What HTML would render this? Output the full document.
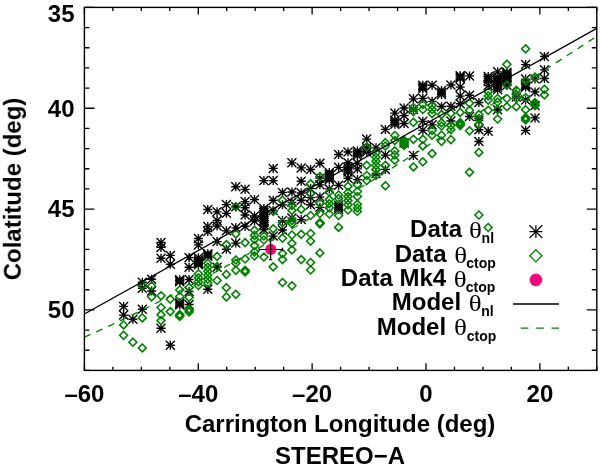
<!DOCTYPE html><html><head><meta charset="utf-8"><style>html,body{margin:0;padding:0;background:#fff;}svg{display:block;}text{font-family:"Liberation Sans",sans-serif;font-weight:bold;} .th{font-family:"Liberation Serif",serif;font-weight:normal;}</style></head><body>
<svg width="600" height="470" viewBox="0 0 600 470">
<rect x="0" y="0" width="600" height="470" fill="#fff"/>
<defs>
<g id="a"><path d="M-4.5,0H4.5M0,-4.5V4.5M-4.5,-4.5L4.5,4.5M-4.5,4.5L4.5,-4.5" stroke="#000" stroke-width="1.35" fill="none"/></g>
<g id="d"><path d="M0,-3.9499999999999997L3.9499999999999997,0L0,3.9499999999999997L-3.9499999999999997,0Z" stroke="#008000" stroke-width="1.6" fill="none"/></g>
</defs>
<use href="#a" x="123.6" y="306.4"/>
<use href="#a" x="123.6" y="315.1"/>
<use href="#a" x="132.9" y="319.2"/>
<use href="#a" x="142.3" y="282.2"/>
<use href="#a" x="142.3" y="288.2"/>
<use href="#a" x="142.3" y="309.3"/>
<use href="#a" x="151.6" y="279.2"/>
<use href="#a" x="151.6" y="291.0"/>
<use href="#a" x="161.0" y="242.4"/>
<use href="#a" x="161.0" y="247.4"/>
<use href="#a" x="161.0" y="258.3"/>
<use href="#a" x="161.0" y="328.3"/>
<use href="#a" x="170.3" y="255.4"/>
<use href="#a" x="170.3" y="264.2"/>
<use href="#a" x="170.3" y="345.3"/>
<use href="#a" x="179.7" y="279.8"/>
<use href="#a" x="179.7" y="281.8"/>
<use href="#a" x="179.7" y="302.8"/>
<use href="#a" x="179.7" y="305.0"/>
<use href="#a" x="179.7" y="280.8"/>
<use href="#a" x="179.7" y="303.9"/>
<use href="#a" x="189.1" y="257.6"/>
<use href="#a" x="189.1" y="267.2"/>
<use href="#a" x="189.1" y="279.5"/>
<use href="#a" x="189.1" y="291.5"/>
<use href="#a" x="189.1" y="304.5"/>
<use href="#a" x="198.4" y="238.5"/>
<use href="#a" x="198.4" y="244.9"/>
<use href="#a" x="198.4" y="257.7"/>
<use href="#a" x="198.4" y="262.0"/>
<use href="#a" x="198.4" y="264.7"/>
<use href="#a" x="198.4" y="259.9"/>
<use href="#a" x="198.4" y="263.4"/>
<use href="#a" x="207.8" y="209.5"/>
<use href="#a" x="207.8" y="226.4"/>
<use href="#a" x="207.8" y="231.5"/>
<use href="#a" x="207.8" y="253.8"/>
<use href="#a" x="207.8" y="256.2"/>
<use href="#a" x="207.8" y="289.3"/>
<use href="#a" x="207.8" y="255.0"/>
<use href="#a" x="217.1" y="211.8"/>
<use href="#a" x="217.1" y="220.4"/>
<use href="#a" x="217.1" y="226.0"/>
<use href="#a" x="217.1" y="241.6"/>
<use href="#a" x="217.1" y="267.3"/>
<use href="#a" x="226.4" y="204.6"/>
<use href="#a" x="226.4" y="213.3"/>
<use href="#a" x="226.4" y="230.8"/>
<use href="#a" x="226.4" y="249.2"/>
<use href="#a" x="235.8" y="186.7"/>
<use href="#a" x="235.8" y="206.7"/>
<use href="#a" x="235.8" y="227.8"/>
<use href="#a" x="235.8" y="243.1"/>
<use href="#a" x="245.1" y="189.3"/>
<use href="#a" x="245.1" y="201.6"/>
<use href="#a" x="245.1" y="207.7"/>
<use href="#a" x="245.1" y="215.0"/>
<use href="#a" x="245.1" y="226.2"/>
<use href="#a" x="254.5" y="199.5"/>
<use href="#a" x="254.5" y="216.0"/>
<use href="#a" x="254.5" y="221.0"/>
<use href="#a" x="263.9" y="180.6"/>
<use href="#a" x="263.9" y="208.5"/>
<use href="#a" x="263.9" y="212.5"/>
<use href="#a" x="263.9" y="216.6"/>
<use href="#a" x="263.9" y="220.6"/>
<use href="#a" x="263.9" y="224.7"/>
<use href="#a" x="263.9" y="229.5"/>
<use href="#a" x="263.9" y="210.5"/>
<use href="#a" x="263.9" y="214.6"/>
<use href="#a" x="263.9" y="218.6"/>
<use href="#a" x="263.9" y="222.6"/>
<use href="#a" x="273.2" y="168.4"/>
<use href="#a" x="273.2" y="180.6"/>
<use href="#a" x="273.2" y="200.2"/>
<use href="#a" x="273.2" y="210.4"/>
<use href="#a" x="273.2" y="236.1"/>
<use href="#a" x="282.5" y="192.4"/>
<use href="#a" x="282.5" y="204.8"/>
<use href="#a" x="282.5" y="220.6"/>
<use href="#a" x="282.5" y="230.0"/>
<use href="#a" x="291.9" y="162.8"/>
<use href="#a" x="291.9" y="192.0"/>
<use href="#a" x="291.9" y="202.3"/>
<use href="#a" x="291.9" y="218.1"/>
<use href="#a" x="301.2" y="167.9"/>
<use href="#a" x="301.2" y="181.2"/>
<use href="#a" x="301.2" y="193.0"/>
<use href="#a" x="301.2" y="200.2"/>
<use href="#a" x="301.2" y="219.6"/>
<use href="#a" x="310.6" y="169.5"/>
<use href="#a" x="310.6" y="188.4"/>
<use href="#a" x="310.6" y="197.6"/>
<use href="#a" x="310.6" y="204.7"/>
<use href="#a" x="319.9" y="163.2"/>
<use href="#a" x="319.9" y="178.2"/>
<use href="#a" x="319.9" y="184.8"/>
<use href="#a" x="319.9" y="197.1"/>
<use href="#a" x="319.9" y="207.3"/>
<use href="#a" x="329.3" y="172.5"/>
<use href="#a" x="329.3" y="176.1"/>
<use href="#a" x="329.3" y="179.7"/>
<use href="#a" x="329.3" y="188.9"/>
<use href="#a" x="329.3" y="174.3"/>
<use href="#a" x="329.3" y="177.9"/>
<use href="#a" x="338.6" y="154.5"/>
<use href="#a" x="338.6" y="167.3"/>
<use href="#a" x="338.6" y="185.3"/>
<use href="#a" x="338.6" y="205.2"/>
<use href="#a" x="338.6" y="209.3"/>
<use href="#a" x="338.6" y="207.2"/>
<use href="#a" x="348.0" y="152.0"/>
<use href="#a" x="348.0" y="162.7"/>
<use href="#a" x="348.0" y="167.8"/>
<use href="#a" x="348.0" y="172.0"/>
<use href="#a" x="348.0" y="178.2"/>
<use href="#a" x="348.0" y="169.9"/>
<use href="#a" x="357.4" y="151.0"/>
<use href="#a" x="357.4" y="155.5"/>
<use href="#a" x="357.4" y="163.3"/>
<use href="#a" x="357.4" y="168.9"/>
<use href="#a" x="357.4" y="179.6"/>
<use href="#a" x="357.4" y="153.2"/>
<use href="#a" x="366.7" y="139.1"/>
<use href="#a" x="366.7" y="147.8"/>
<use href="#a" x="366.7" y="152.0"/>
<use href="#a" x="366.7" y="149.9"/>
<use href="#a" x="376.0" y="147.8"/>
<use href="#a" x="376.0" y="173.5"/>
<use href="#a" x="385.4" y="129.4"/>
<use href="#a" x="385.4" y="155.1"/>
<use href="#a" x="385.4" y="169.4"/>
<use href="#a" x="394.8" y="113.1"/>
<use href="#a" x="394.8" y="120.2"/>
<use href="#a" x="394.8" y="124.3"/>
<use href="#a" x="394.8" y="122.2"/>
<use href="#a" x="404.1" y="108.0"/>
<use href="#a" x="404.1" y="115.6"/>
<use href="#a" x="404.1" y="123.5"/>
<use href="#a" x="404.1" y="143.0"/>
<use href="#a" x="413.4" y="98.8"/>
<use href="#a" x="413.4" y="109.5"/>
<use href="#a" x="413.4" y="155.6"/>
<use href="#a" x="422.8" y="85.2"/>
<use href="#a" x="422.8" y="88.8"/>
<use href="#a" x="422.8" y="98.3"/>
<use href="#a" x="422.8" y="121.3"/>
<use href="#a" x="422.8" y="130.3"/>
<use href="#a" x="422.8" y="87.0"/>
<use href="#a" x="432.1" y="85.2"/>
<use href="#a" x="432.1" y="101.3"/>
<use href="#a" x="432.1" y="124.8"/>
<use href="#a" x="441.5" y="90.5"/>
<use href="#a" x="441.5" y="94.5"/>
<use href="#a" x="441.5" y="106.5"/>
<use href="#a" x="441.5" y="92.5"/>
<use href="#a" x="450.9" y="85.0"/>
<use href="#a" x="450.9" y="106.2"/>
<use href="#a" x="450.9" y="121.0"/>
<use href="#a" x="460.2" y="75.8"/>
<use href="#a" x="460.2" y="78.2"/>
<use href="#a" x="460.2" y="87.1"/>
<use href="#a" x="460.2" y="96.1"/>
<use href="#a" x="460.2" y="103.7"/>
<use href="#a" x="460.2" y="77.0"/>
<use href="#a" x="469.5" y="75.9"/>
<use href="#a" x="469.5" y="95.2"/>
<use href="#a" x="469.5" y="116.5"/>
<use href="#a" x="478.9" y="102.5"/>
<use href="#a" x="478.9" y="120.5"/>
<use href="#a" x="478.9" y="129.7"/>
<use href="#a" x="478.9" y="141.5"/>
<use href="#a" x="488.2" y="76.5"/>
<use href="#a" x="488.2" y="80.5"/>
<use href="#a" x="488.2" y="85.6"/>
<use href="#a" x="488.2" y="131.3"/>
<use href="#a" x="488.2" y="78.5"/>
<use href="#a" x="497.6" y="71.8"/>
<use href="#a" x="497.6" y="77.0"/>
<use href="#a" x="497.6" y="81.1"/>
<use href="#a" x="497.6" y="85.2"/>
<use href="#a" x="497.6" y="89.8"/>
<use href="#a" x="497.6" y="109.7"/>
<use href="#a" x="497.6" y="79.0"/>
<use href="#a" x="497.6" y="83.2"/>
<use href="#a" x="497.6" y="87.5"/>
<use href="#a" x="506.9" y="72.2"/>
<use href="#a" x="506.9" y="74.5"/>
<use href="#a" x="506.9" y="77.5"/>
<use href="#a" x="506.9" y="80.2"/>
<use href="#a" x="506.9" y="85.2"/>
<use href="#a" x="506.9" y="73.3"/>
<use href="#a" x="506.9" y="76.0"/>
<use href="#a" x="506.9" y="78.8"/>
<use href="#a" x="516.3" y="97.0"/>
<use href="#a" x="525.6" y="64.6"/>
<use href="#a" x="525.6" y="79.1"/>
<use href="#a" x="525.6" y="84.2"/>
<use href="#a" x="525.6" y="87.3"/>
<use href="#a" x="525.6" y="100.0"/>
<use href="#a" x="525.6" y="130.3"/>
<use href="#a" x="525.6" y="85.8"/>
<use href="#a" x="535.0" y="79.1"/>
<use href="#a" x="535.0" y="91.9"/>
<use href="#a" x="535.0" y="105.6"/>
<use href="#a" x="535.0" y="117.9"/>
<use href="#a" x="544.4" y="56.5"/>
<use href="#a" x="544.4" y="69.8"/>
<use href="#a" x="544.4" y="78.5"/>
<use href="#d" x="123.6" y="324.9"/>
<use href="#d" x="123.6" y="335.3"/>
<use href="#d" x="132.9" y="342.2"/>
<use href="#d" x="142.3" y="285.5"/>
<use href="#d" x="142.3" y="317.9"/>
<use href="#d" x="142.3" y="347.9"/>
<use href="#d" x="151.6" y="286.0"/>
<use href="#d" x="151.6" y="296.8"/>
<use href="#d" x="161.0" y="295.8"/>
<use href="#d" x="161.0" y="307.5"/>
<use href="#d" x="161.0" y="314.7"/>
<use href="#d" x="161.0" y="320.6"/>
<use href="#d" x="170.3" y="299.2"/>
<use href="#d" x="170.3" y="311.6"/>
<use href="#d" x="179.7" y="290.0"/>
<use href="#d" x="179.7" y="296.5"/>
<use href="#d" x="179.7" y="314.5"/>
<use href="#d" x="179.7" y="316.5"/>
<use href="#d" x="179.7" y="315.5"/>
<use href="#d" x="189.1" y="287.5"/>
<use href="#d" x="189.1" y="297.3"/>
<use href="#d" x="189.1" y="309.0"/>
<use href="#d" x="189.1" y="312.0"/>
<use href="#d" x="189.1" y="310.5"/>
<use href="#d" x="198.4" y="273.8"/>
<use href="#d" x="198.4" y="277.8"/>
<use href="#d" x="198.4" y="281.8"/>
<use href="#d" x="198.4" y="285.5"/>
<use href="#d" x="207.8" y="263.2"/>
<use href="#d" x="207.8" y="267.2"/>
<use href="#d" x="207.8" y="271.2"/>
<use href="#d" x="207.8" y="275.2"/>
<use href="#d" x="207.8" y="279.2"/>
<use href="#d" x="207.8" y="283.0"/>
<use href="#d" x="217.1" y="256.4"/>
<use href="#d" x="217.1" y="266.5"/>
<use href="#d" x="217.1" y="280.5"/>
<use href="#d" x="226.4" y="244.6"/>
<use href="#d" x="226.4" y="274.4"/>
<use href="#d" x="226.4" y="287.7"/>
<use href="#d" x="226.4" y="296.9"/>
<use href="#d" x="235.8" y="206.7"/>
<use href="#d" x="235.8" y="233.9"/>
<use href="#d" x="235.8" y="260.0"/>
<use href="#d" x="235.8" y="263.2"/>
<use href="#d" x="235.8" y="270.3"/>
<use href="#d" x="235.8" y="294.3"/>
<use href="#d" x="245.1" y="242.6"/>
<use href="#d" x="245.1" y="259.0"/>
<use href="#d" x="245.1" y="270.3"/>
<use href="#d" x="245.1" y="272.0"/>
<use href="#d" x="245.1" y="271.1"/>
<use href="#d" x="254.5" y="230.3"/>
<use href="#d" x="254.5" y="235.4"/>
<use href="#d" x="254.5" y="239.5"/>
<use href="#d" x="254.5" y="245.6"/>
<use href="#d" x="254.5" y="251.8"/>
<use href="#d" x="254.5" y="256.0"/>
<use href="#d" x="263.9" y="236.0"/>
<use href="#d" x="263.9" y="240.0"/>
<use href="#d" x="263.9" y="257.0"/>
<use href="#d" x="273.2" y="211.5"/>
<use href="#d" x="273.2" y="228.8"/>
<use href="#d" x="273.2" y="266.8"/>
<use href="#d" x="282.5" y="200.2"/>
<use href="#d" x="282.5" y="222.7"/>
<use href="#d" x="282.5" y="238.2"/>
<use href="#d" x="282.5" y="253.5"/>
<use href="#d" x="282.5" y="259.6"/>
<use href="#d" x="282.5" y="282.5"/>
<use href="#d" x="291.9" y="205.3"/>
<use href="#d" x="291.9" y="210.4"/>
<use href="#d" x="291.9" y="220.6"/>
<use href="#d" x="291.9" y="223.7"/>
<use href="#d" x="291.9" y="235.0"/>
<use href="#d" x="291.9" y="243.3"/>
<use href="#d" x="291.9" y="249.9"/>
<use href="#d" x="291.9" y="285.8"/>
<use href="#d" x="301.2" y="209.4"/>
<use href="#d" x="301.2" y="234.3"/>
<use href="#d" x="301.2" y="259.6"/>
<use href="#d" x="310.6" y="183.8"/>
<use href="#d" x="310.6" y="193.5"/>
<use href="#d" x="310.6" y="215.5"/>
<use href="#d" x="310.6" y="233.5"/>
<use href="#d" x="310.6" y="241.2"/>
<use href="#d" x="310.6" y="262.5"/>
<use href="#d" x="310.6" y="270.0"/>
<use href="#d" x="319.9" y="176.5"/>
<use href="#d" x="319.9" y="203.2"/>
<use href="#d" x="319.9" y="213.5"/>
<use href="#d" x="319.9" y="222.8"/>
<use href="#d" x="319.9" y="223.8"/>
<use href="#d" x="319.9" y="252.9"/>
<use href="#d" x="319.9" y="223.3"/>
<use href="#d" x="329.3" y="192.0"/>
<use href="#d" x="329.3" y="199.6"/>
<use href="#d" x="329.3" y="203.7"/>
<use href="#d" x="329.3" y="207.8"/>
<use href="#d" x="329.3" y="214.0"/>
<use href="#d" x="338.6" y="195.0"/>
<use href="#d" x="338.6" y="198.6"/>
<use href="#d" x="338.6" y="215.5"/>
<use href="#d" x="338.6" y="227.4"/>
<use href="#d" x="348.0" y="186.3"/>
<use href="#d" x="348.0" y="192.5"/>
<use href="#d" x="348.0" y="196.6"/>
<use href="#d" x="348.0" y="200.6"/>
<use href="#d" x="348.0" y="204.7"/>
<use href="#d" x="348.0" y="210.0"/>
<use href="#d" x="357.4" y="184.7"/>
<use href="#d" x="357.4" y="191.5"/>
<use href="#d" x="357.4" y="196.5"/>
<use href="#d" x="357.4" y="204.3"/>
<use href="#d" x="357.4" y="207.9"/>
<use href="#d" x="357.4" y="211.5"/>
<use href="#d" x="366.7" y="146.8"/>
<use href="#d" x="366.7" y="165.3"/>
<use href="#d" x="366.7" y="175.5"/>
<use href="#d" x="366.7" y="180.6"/>
<use href="#d" x="376.0" y="153.0"/>
<use href="#d" x="376.0" y="157.2"/>
<use href="#d" x="376.0" y="161.2"/>
<use href="#d" x="376.0" y="165.3"/>
<use href="#d" x="376.0" y="169.4"/>
<use href="#d" x="376.0" y="175.5"/>
<use href="#d" x="385.4" y="142.7"/>
<use href="#d" x="385.4" y="146.0"/>
<use href="#d" x="385.4" y="165.3"/>
<use href="#d" x="385.4" y="185.8"/>
<use href="#d" x="394.8" y="135.5"/>
<use href="#d" x="394.8" y="140.6"/>
<use href="#d" x="394.8" y="150.9"/>
<use href="#d" x="394.8" y="155.0"/>
<use href="#d" x="394.8" y="160.2"/>
<use href="#d" x="404.1" y="140.3"/>
<use href="#d" x="404.1" y="143.0"/>
<use href="#d" x="404.1" y="145.5"/>
<use href="#d" x="404.1" y="141.7"/>
<use href="#d" x="404.1" y="144.2"/>
<use href="#d" x="413.4" y="107.5"/>
<use href="#d" x="413.4" y="111.6"/>
<use href="#d" x="413.4" y="122.3"/>
<use href="#d" x="413.4" y="139.3"/>
<use href="#d" x="413.4" y="166.9"/>
<use href="#d" x="422.8" y="104.4"/>
<use href="#d" x="422.8" y="109.5"/>
<use href="#d" x="422.8" y="139.3"/>
<use href="#d" x="422.8" y="145.9"/>
<use href="#d" x="422.8" y="161.8"/>
<use href="#d" x="432.1" y="105.4"/>
<use href="#d" x="432.1" y="109.5"/>
<use href="#d" x="432.1" y="113.6"/>
<use href="#d" x="432.1" y="130.5"/>
<use href="#d" x="432.1" y="135.2"/>
<use href="#d" x="432.1" y="153.6"/>
<use href="#d" x="441.5" y="114.6"/>
<use href="#d" x="441.5" y="122.8"/>
<use href="#d" x="441.5" y="126.0"/>
<use href="#d" x="441.5" y="135.2"/>
<use href="#d" x="441.5" y="141.3"/>
<use href="#d" x="450.9" y="113.4"/>
<use href="#d" x="450.9" y="125.6"/>
<use href="#d" x="450.9" y="129.7"/>
<use href="#d" x="450.9" y="139.7"/>
<use href="#d" x="460.2" y="112.4"/>
<use href="#d" x="460.2" y="122.6"/>
<use href="#d" x="460.2" y="125.6"/>
<use href="#d" x="460.2" y="124.1"/>
<use href="#d" x="469.5" y="103.2"/>
<use href="#d" x="469.5" y="110.3"/>
<use href="#d" x="469.5" y="130.8"/>
<use href="#d" x="469.5" y="172.3"/>
<use href="#d" x="478.9" y="114.4"/>
<use href="#d" x="478.9" y="118.5"/>
<use href="#d" x="478.9" y="124.6"/>
<use href="#d" x="478.9" y="152.4"/>
<use href="#d" x="478.9" y="215.0"/>
<use href="#d" x="488.2" y="91.8"/>
<use href="#d" x="488.2" y="95.9"/>
<use href="#d" x="488.2" y="100.1"/>
<use href="#d" x="488.2" y="110.3"/>
<use href="#d" x="488.2" y="227.5"/>
<use href="#d" x="497.6" y="98.5"/>
<use href="#d" x="497.6" y="102.0"/>
<use href="#d" x="497.6" y="109.7"/>
<use href="#d" x="497.6" y="119.0"/>
<use href="#d" x="506.9" y="64.3"/>
<use href="#d" x="506.9" y="85.2"/>
<use href="#d" x="506.9" y="98.5"/>
<use href="#d" x="506.9" y="106.7"/>
<use href="#d" x="516.3" y="90.3"/>
<use href="#d" x="516.3" y="94.4"/>
<use href="#d" x="516.3" y="98.5"/>
<use href="#d" x="516.3" y="106.7"/>
<use href="#d" x="525.6" y="48.8"/>
<use href="#d" x="525.6" y="81.0"/>
<use href="#d" x="525.6" y="97.5"/>
<use href="#d" x="525.6" y="109.7"/>
<use href="#d" x="525.6" y="117.5"/>
<use href="#d" x="525.6" y="120.0"/>
<use href="#d" x="525.6" y="118.8"/>
<use href="#d" x="535.0" y="77.0"/>
<use href="#d" x="535.0" y="102.6"/>
<use href="#d" x="535.0" y="105.6"/>
<use href="#d" x="535.0" y="104.1"/>
<use href="#d" x="544.4" y="89.3"/>
<use href="#d" x="544.4" y="94.9"/>
<circle cx="270.8" cy="249.4" r="5.6" fill="#f5077a"/>
<path d="M259.2,249.5H282.4M259.2,247.8V251.2M282.4,247.8V251.2M270.6,238.8V259.6M269,259.6H272.2M269,238.8H272.2" stroke="#000" stroke-width="1.2" fill="none"/>
<line x1="84.4" y1="314.0" x2="596.8" y2="28.4" stroke="#000" stroke-width="1.3"/>
<path d="M84.4,337.1 L93.1,333.2 L101.8,329.3 L110.5,325.3 L119.1,321.2 L127.8,317.0 L136.5,312.8 L145.2,308.6 L153.9,304.2 L162.6,299.9 L171.2,295.4 L179.9,290.9 L188.6,286.4 L197.3,281.8 L206.0,277.2 L214.7,272.5 L223.4,267.8 L232.0,263.0 L240.7,258.1 L249.4,253.3 L258.1,248.4 L266.8,243.4 L275.5,238.4 L284.1,233.4 L292.8,228.3 L301.5,223.2 L310.2,218.1 L318.9,212.9 L327.6,207.7 L336.3,202.4 L344.9,197.1 L353.6,191.8 L362.3,186.5 L371.0,181.2 L379.7,175.8 L388.4,170.4 L397.1,164.9 L405.7,159.5 L414.4,154.0 L423.1,148.5 L431.8,143.0 L440.5,137.4 L449.2,131.9 L457.8,126.3 L466.5,120.8 L475.2,115.2 L483.9,109.6 L492.6,104.0 L501.3,98.3 L510.0,92.7 L518.6,87.1 L527.3,81.4 L536.0,75.8 L544.7,70.1 L553.4,64.5 L562.1,58.8 L570.7,53.2 L579.4,47.6 L588.1,41.9 L596.8,36.3" stroke="#008000" stroke-width="1.3" fill="none" stroke-dasharray="6.8 6.2"/>
<rect x="84.4" y="7.4" width="512.4" height="363.0" fill="none" stroke="#000" stroke-width="1.4"/>
<path d="M84.40,370.4V363.20M84.40,7.4V14.60M112.87,370.4V366.80M112.87,7.4V11.00M141.33,370.4V366.80M141.33,7.4V11.00M169.80,370.4V366.80M169.80,7.4V11.00M198.27,370.4V363.20M198.27,7.4V14.60M226.73,370.4V366.80M226.73,7.4V11.00M255.20,370.4V366.80M255.20,7.4V11.00M283.67,370.4V366.80M283.67,7.4V11.00M312.13,370.4V363.20M312.13,7.4V14.60M340.60,370.4V366.80M340.60,7.4V11.00M369.07,370.4V366.80M369.07,7.4V11.00M397.53,370.4V366.80M397.53,7.4V11.00M426.00,370.4V363.20M426.00,7.4V14.60M454.47,370.4V366.80M454.47,7.4V11.00M482.93,370.4V366.80M482.93,7.4V11.00M511.40,370.4V366.80M511.40,7.4V11.00M539.87,370.4V363.20M539.87,7.4V14.60M568.33,370.4V366.80M568.33,7.4V11.00M596.80,370.4V366.80M596.80,7.4V11.00M84.4,7.40H94.40M596.8,7.40H586.80M84.4,27.57H89.40M596.8,27.57H591.80M84.4,47.73H89.40M596.8,47.73H591.80M84.4,67.90H89.40M596.8,67.90H591.80M84.4,88.07H89.40M596.8,88.07H591.80M84.4,108.23H94.40M596.8,108.23H586.80M84.4,128.40H89.40M596.8,128.40H591.80M84.4,148.57H89.40M596.8,148.57H591.80M84.4,168.73H89.40M596.8,168.73H591.80M84.4,188.90H89.40M596.8,188.90H591.80M84.4,209.07H94.40M596.8,209.07H586.80M84.4,229.23H89.40M596.8,229.23H591.80M84.4,249.40H89.40M596.8,249.40H591.80M84.4,269.57H89.40M596.8,269.57H591.80M84.4,289.73H89.40M596.8,289.73H591.80M84.4,309.90H94.40M596.8,309.90H586.80M84.4,330.07H89.40M596.8,330.07H591.80M84.4,350.23H89.40M596.8,350.23H591.80M84.4,370.40H89.40M596.8,370.40H591.80" stroke="#000" stroke-width="1.3" fill="none"/>
<g opacity="0.999">
<text x="84.4" y="401.7" font-size="24" text-anchor="middle">–60</text>
<text x="198.3" y="401.7" font-size="24" text-anchor="middle">–40</text>
<text x="312.1" y="401.7" font-size="24" text-anchor="middle">–20</text>
<text x="426.0" y="401.7" font-size="24" text-anchor="middle">0</text>
<text x="539.9" y="401.7" font-size="24" text-anchor="middle">20</text>
<text x="74.5" y="21.8" font-size="24" text-anchor="end">35</text>
<text x="74.5" y="116.6" font-size="24" text-anchor="end">40</text>
<text x="74.5" y="217.4" font-size="24" text-anchor="end">45</text>
<text x="74.5" y="318.4" font-size="24" text-anchor="end">50</text>
<text x="340" y="432" font-size="24" text-anchor="middle">Carrington Longitude (deg)</text>
<text x="340" y="463.6" font-size="24" text-anchor="middle">STEREO−A</text>
<text transform="translate(20.8,189) rotate(-90)" font-size="24" text-anchor="middle">Colatitude (deg)</text>
<text x="410.1" y="237.0" font-size="24">Data</text>
<text transform="translate(469.1,237.5) scale(1.12,1)" class="th" font-size="24">θ</text>
<text x="481.6" y="242.6" font-size="14">nl</text>
<text x="394.7" y="262.0" font-size="24">Data</text>
<text transform="translate(454.2,262.5) scale(1.12,1)" class="th" font-size="24">θ</text>
<text x="466.3" y="267.6" font-size="14">ctop</text>
<text x="340.8" y="286.1" font-size="24">Data Mk4</text>
<text transform="translate(453.8,286.6) scale(1.12,1)" class="th" font-size="24">θ</text>
<text x="465.7" y="291.7" font-size="14">ctop</text>
<text x="391.8" y="310.4" font-size="24">Model</text>
<text transform="translate(468.7,310.9) scale(1.12,1)" class="th" font-size="24">θ</text>
<text x="481.3" y="316.0" font-size="14">nl</text>
<text x="376.8" y="334.9" font-size="24">Model</text>
<text transform="translate(454.1,335.4) scale(1.12,1)" class="th" font-size="24">θ</text>
<text x="466.7" y="340.5" font-size="14">ctop</text>
</g>
<path transform="translate(535.9,231.7)" d="M-6.4,0H6.4M0,-6.4V6.4M-6.4,-6.4L6.4,6.4M-6.4,6.4L6.4,-6.4" stroke="#000" stroke-width="1.25" fill="none"/>
<path transform="translate(535.9,255.8)" d="M0,-6.05L6.05,0L0,6.05L-6.05,0Z" stroke="#008000" stroke-width="1.3" fill="none"/>
<circle cx="535.9" cy="279.9" r="6.3" fill="#f5077a"/>
<line x1="513" y1="304" x2="559" y2="304" stroke="#000" stroke-width="1.3"/>
<line x1="513" y1="328.1" x2="559" y2="328.1" stroke="#008000" stroke-width="1.3" stroke-dasharray="7.7 7.7" stroke-dashoffset="7.7"/>
</svg></body></html>
